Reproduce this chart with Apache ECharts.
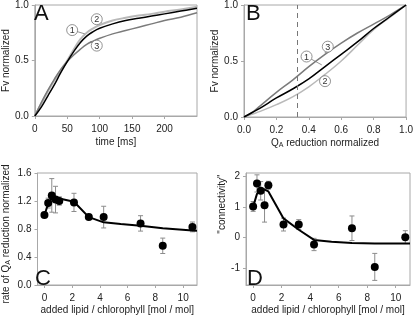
<!DOCTYPE html>
<html>
<head>
<meta charset="utf-8">
<script src="https://cdn.jsdelivr.net/npm/echarts@6/dist/echarts.min.js"></script>
<style>
  html, body { margin: 0; padding: 0; background: #fff; }
  #chart { width: 416px; height: 316px; }
</style>
</head>
<body>
<div id="chart"></div>
<script>
// panel A: fluorescence rise vs time
const timeMs = [0, 10, 20, 30, 40, 50, 60, 70, 80, 90, 100, 120, 140, 160, 180, 200, 225, 250]
const fvA1 = [0, 0.08, 0.18, 0.28, 0.39, 0.49, 0.58, 0.66, 0.72, 0.76, 0.79, 0.83, 0.86, 0.88, 0.90, 0.92, 0.945, 0.97]
const fvA2 = [0, 0.11, 0.22, 0.32, 0.41, 0.50, 0.60, 0.69, 0.75, 0.79, 0.82, 0.86, 0.885, 0.905, 0.92, 0.94, 0.96, 0.985]
const fvA3 = [0, 0.12, 0.23, 0.33, 0.42, 0.49, 0.55, 0.60, 0.645, 0.675, 0.70, 0.74, 0.77, 0.80, 0.83, 0.86, 0.89, 0.93]

// panel B: Fv vs QA reduction
const qaB = [0, 0.05, 0.1, 0.2, 0.3, 0.4, 0.5, 0.6, 0.7, 0.8, 0.9, 1.0]
const fvB1 = [0, 0.04, 0.08, 0.17, 0.25, 0.34, 0.45, 0.56, 0.67, 0.79, 0.895, 1.0]
const fvB2 = [0, 0.025, 0.05, 0.11, 0.18, 0.27, 0.38, 0.50, 0.64, 0.78, 0.89, 1.0]
const fvB3 = [0, 0.04, 0.10, 0.22, 0.33, 0.45, 0.56, 0.66, 0.75, 0.83, 0.91, 1.0]
const dashedQA = 0.33

// panels C and D: measured points vs added lipid
const lipidRatio = [0, 0.27, 0.53, 0.8, 1.07, 2.13, 3.2, 4.27, 6.93, 8.53, 10.67]
const rateC = [1.0, 1.17, 1.28, 1.22, 1.2, 1.18, 0.97, 0.97, 0.88, 0.56, 0.83]
const rateErrC = [0, 0.07, 0.24, 0.19, 0.06, 0.13, 0.03, 0.155, 0.11, 0.11, 0.07]
const connD = [1.01, 1.76, 1.52, 1.05, 1.7, 0.42, 0.42, -0.23, 0.3, -0.96, 0.01]
const connErrD = [0.16, 0.28, 0.3, 0.55, 0.13, 0.21, 0.16, 0.2, 0.4, 0.44, 0.21]

// model curves
const fitX = [0, 0.27, 0.53, 0.8, 1.07, 2.13, 3.2, 4.27, 5.5, 6.93, 8.53, 10.67, 11]
const fitC = [1.0, 1.16, 1.24, 1.245, 1.235, 1.19, 0.97, 0.895, 0.87, 0.845, 0.81, 0.78, 0.775]
const fitD = [1.0, 1.42, 1.55, 1.56, 1.5, 0.62, 0.25, -0.08, -0.14, -0.18, -0.2, -0.2, -0.2]

// circled curve labels: [labelX, labelY, curveX, curveY, text]
const notesA = [[57.6, 0.774, 77, 0.74, '1'], [95.5, 0.872, 103, 0.84, '2'], [95.5, 0.634, 85, 0.67, '3']]
const notesB = [[0.386, 0.54, 0.48, 0.465, '1'], [0.5, 0.32, 0.47, 0.35, '2'], [0.517, 0.628, 0.5, 0.57, '3']]

const FONT = 'Liberation Sans, Arial, sans-serif'
const TXT = '#222'
const FRAME = '#a8a8a8'
const C_LIGHT = '#b9b9b9'
const C_MID = '#7b7b7b'

const zip = (xs, ys) => xs.map((x, i) => [x, ys[i]])

const chart = echarts.init(document.getElementById('chart'))

function xAx(idx, opt) {
  return Object.assign({
    gridIndex: idx,
    type: 'value',
    nameLocation: 'middle',
    nameTextStyle: { color: TXT, fontSize: 10, fontFamily: FONT },
    axisLine: { show: true, onZero: false, lineStyle: { color: FRAME } },
    axisTick: { show: true, length: 3, lineStyle: { color: FRAME } },
    axisLabel: { color: TXT, fontSize: 10, fontFamily: FONT, margin: 6 },
    splitLine: { show: false }
  }, opt)
}
function yAx(idx, opt) {
  return xAx(idx, opt)
}

const subRich = {
  sub: { fontSize: 7, fontFamily: FONT, color: TXT, verticalAlign: 'bottom', padding: [4, 0, 0, 0] }
}

// error bars drawn with the axes' own scales
function errorBars(xi, xs, ys, es) {
  return {
    type: 'custom',
    xAxisIndex: xi,
    yAxisIndex: xi,
    silent: true,
    data: xs.map((x, i) => [x, ys[i], es[i]]),
    renderItem: (params, api) => {
      const x = api.value(0), y = api.value(1), e = api.value(2)
      const top = api.coord([x, y + e])
      const bot = api.coord([x, y - e])
      const st = { stroke: '#8c8c8c', lineWidth: 1 }
      return {
        type: 'group',
        children: [
          { type: 'line', shape: { x1: top[0], y1: top[1], x2: bot[0], y2: bot[1] }, style: st },
          { type: 'line', shape: { x1: top[0] - 2.5, y1: top[1], x2: top[0] + 2.5, y2: top[1] }, style: st },
          { type: 'line', shape: { x1: bot[0] - 2.5, y1: bot[1], x2: bot[0] + 2.5, y2: bot[1] }, style: st }
        ]
      }
    }
  }
}

function notes(xi, list) {
  return {
    type: 'custom',
    xAxisIndex: xi,
    yAxisIndex: xi,
    silent: true,
    clip: false,
    z: 10,
    data: list.map((n) => [n[0], n[1], n[2], n[3]]),
    renderItem: (params, api) => {
      const p = api.coord([api.value(0), api.value(1)])
      const q = api.coord([api.value(2), api.value(3)])
      return {
        type: 'group',
        children: [
          { type: 'line', shape: { x1: p[0], y1: p[1], x2: q[0], y2: q[1] }, style: { stroke: '#777', lineWidth: 0.8 } },
          { type: 'circle', shape: { cx: p[0], cy: p[1], r: 5.5 }, style: { fill: '#fff', stroke: '#777', lineWidth: 0.8 } },
          { type: 'text', style: { x: p[0], y: p[1] + 0.5, text: list[params.dataIndex][4], fill: '#333', font: '9px ' + FONT, align: 'center', verticalAlign: 'middle' } }
        ]
      }
    }
  }
}

function curve(xi, data, color, width) {
  return {
    type: 'line',
    xAxisIndex: xi,
    yAxisIndex: xi,
    data: data,
    smooth: 0.4,
    showSymbol: false,
    silent: true,
    lineStyle: { color: color, width: width }
  }
}

function dots(xi, data) {
  return {
    type: 'scatter', xAxisIndex: xi, yAxisIndex: xi, silent: true,
    symbolSize: 8, itemStyle: { color: '#000', opacity: 1 },
    data: data
  }
}

const xTickLabel = { color: TXT, fontSize: 10, fontFamily: FONT, margin: 8 }
const lipidTicks = [0, 2, 4, 6, 8, 10]

const option = {
  animation: false,
  backgroundColor: '#fff',
  textStyle: { fontFamily: FONT },
  title: [
    { text: 'A', left: 34, top: 3 },
    { text: 'B', left: 246, top: 3 },
    { text: 'C', left: 35, top: 268 },
    { text: 'D', left: 247, top: 268 }
  ].map((t) => Object.assign(t, { padding: 0, textStyle: { fontSize: 22, fontWeight: 'normal', color: '#111', fontFamily: FONT } })),
  grid: [
    { left: 32, top: 4, width: 165, height: 112 },
    { left: 244, top: 4, width: 166, height: 113 },
    { left: 34, top: 173, width: 163, height: 116 },
    { left: 246, top: 173, width: 164, height: 115 }
  ].map((g) => Object.assign(g, { show: true, borderColor: FRAME, borderWidth: 1, containLabel: false })),
  xAxis: [
    xAx(0, { min: 0, max: 250, interval: 50, name: 'time [ms]', nameGap: 21,
      axisLabel: Object.assign({ showMaxLabel: false }, xTickLabel) }),
    xAx(1, { min: 0, max: 1, interval: 0.2, name: 'Q{sub|A} reduction normalized', nameGap: 21,
      nameTextStyle: { color: TXT, fontSize: 10, fontFamily: FONT, rich: subRich },
      axisLabel: Object.assign({ formatter: (v) => v.toFixed(1) }, xTickLabel) }),
    xAx(2, { min: -0.5, max: 11, name: 'added lipid / chlorophyll [mol / mol]', nameGap: 20,
      axisTick: { show: true, length: 3, lineStyle: { color: FRAME }, customValues: lipidTicks },
      axisLabel: Object.assign({ customValues: lipidTicks }, xTickLabel) }),
    xAx(3, { min: -0.5, max: 11, name: 'added lipid / chlorophyll [mol / mol]', nameGap: 20,
      axisTick: { show: true, length: 3, lineStyle: { color: FRAME }, customValues: lipidTicks },
      axisLabel: Object.assign({ customValues: lipidTicks }, xTickLabel) })
  ],
  yAxis: [
    yAx(0, { min: 0, max: 1, interval: 0.5, name: 'Fv normalized', nameGap: 22,
      axisLabel: { color: TXT, fontSize: 10, fontFamily: FONT, margin: 6, formatter: (v) => v.toFixed(1) } }),
    yAx(1, { min: 0, max: 1, interval: 0.5, name: 'Fv normalized', nameGap: 22,
      axisLabel: { color: TXT, fontSize: 10, fontFamily: FONT, margin: 6, formatter: (v) => v.toFixed(1) } }),
    yAx(2, { min: 0, max: 1.6, interval: 0.4, name: 'rate of Q{sub|A} reduction normalized', nameGap: 26,
      nameTextStyle: { color: TXT, fontSize: 10, fontFamily: FONT, rich: subRich, padding: [0, 10, 0, 0] },
      axisLabel: { color: TXT, fontSize: 10, fontFamily: FONT, margin: 6, formatter: (v) => v.toFixed(1) } }),
    yAx(3, { min: -1.55, max: 2.1, name: '"connectivity"', nameGap: 16,
      nameTextStyle: { color: TXT, fontSize: 10, fontFamily: FONT, padding: [0, 0, 0, 50] },
      axisTick: { show: true, length: 3, lineStyle: { color: FRAME }, customValues: [-1, 0, 1, 2] },
      axisLabel: { color: TXT, fontSize: 10, fontFamily: FONT, margin: 6, customValues: [-1, 0, 1, 2] } })
  ],
  series: [
    curve(0, zip(timeMs, fvA2), C_LIGHT, 2),
    curve(0, zip(timeMs, fvA3), C_MID, 1.5),
    curve(0, zip(timeMs, fvA1), '#000', 1.5),
    notes(0, notesA),
    Object.assign(curve(1, zip(qaB, fvB2), C_LIGHT, 1.5), {
      markLine: {
        silent: true,
        symbol: 'none',
        label: { show: false },
        lineStyle: { color: '#777', type: [5, 4], width: 1 },
        data: [{ xAxis: dashedQA }]
      }
    }),
    curve(1, zip(qaB, fvB3), C_MID, 1.5),
    curve(1, zip(qaB, fvB1), '#000', 1.5),
    notes(1, notesB),
    errorBars(2, lipidRatio, rateC, rateErrC),
    Object.assign(curve(2, zip(fitX, fitC), '#000', 2), { smooth: false }),
    dots(2, zip(lipidRatio, rateC)),
    errorBars(3, lipidRatio, connD, connErrD),
    Object.assign(curve(3, zip(fitX, fitD), '#000', 2), { smooth: false }),
    dots(3, zip(lipidRatio, connD))
  ]
}

chart.setOption(option)
</script>
</body>
</html>
